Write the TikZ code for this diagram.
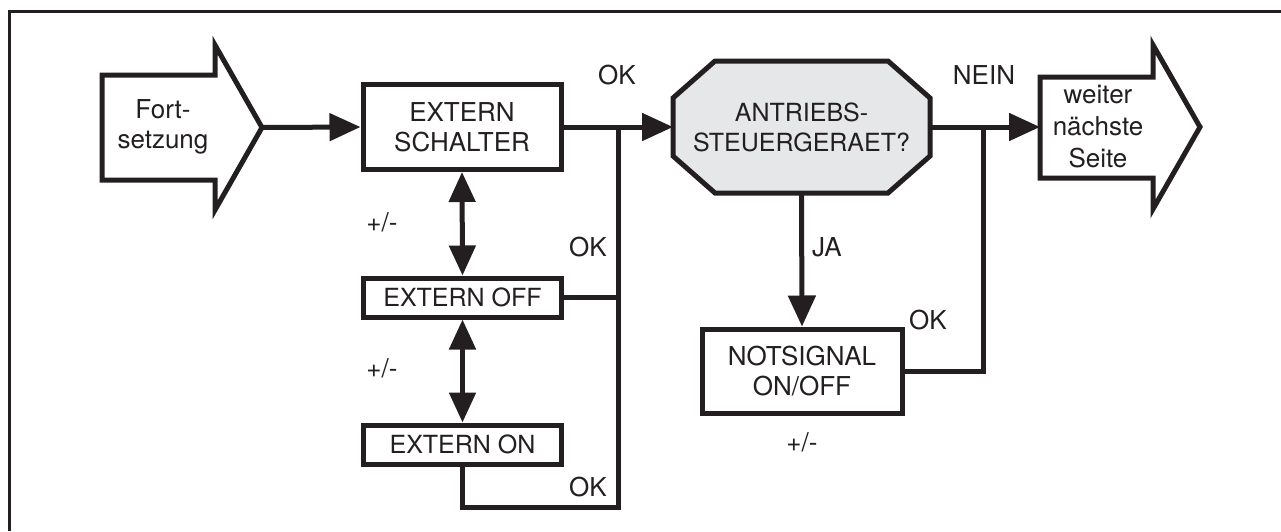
\documentclass[tikz,border=0pt]{standalone}
\usepackage{fontspec}
\setmainfont{TeX Gyre Heros}
\usetikzlibrary{arrows.meta}
\definecolor{ink}{HTML}{231F20}
\definecolor{octfill}{HTML}{E6E7E8}
\begin{document}
\begin{tikzpicture}[x=1pt,y=-1pt,
  every node/.style={font=\fontsize{26}{30}\selectfont, text=ink},
  box/.style={draw=ink, line width=5pt, fill=white, inner sep=0pt, minimum width=198pt, align=center},
  bigarrow/.style={draw=ink, line width=5pt, fill=white, line join=miter},
  wire/.style={draw=ink, line width=5pt},
  arr/.style={wire, -{Triangle[length=31pt,width=27pt]}},
  darr/.style={wire, {Triangle[length=30pt,width=26pt]}-{Triangle[length=30pt,width=26pt]}},
  lbl/.style={inner sep=0pt}]
\useasboundingbox (0,0) rectangle (1281,531);
% frame (top and left edges only)
\draw[ink, line width=3pt] (9,531) -- (9,11.5) -- (1281,11.5);

% Fortsetzung arrow
\draw[bigarrow] (102,75) -- (215,75) -- (215,45) -- (262,127.5) -- (215,210) -- (215,180) -- (102,180) -- cycle;
\node[lbl, align=center] (fort) at (163,127) {Fort-\\setzung};
\coordinate (forttip) at (262,127.5);

% weiter arrow
\draw[bigarrow] (1040,77) -- (1153,77) -- (1153,45) -- (1200,127) -- (1153,209) -- (1153,178) -- (1040,178) -- cycle;
\node[lbl, align=center, font=\fontsize{26}{32}\selectfont] (weiter) at (1098,127) {weiter\\nächste\\Seite};
\coordinate (weiterin) at (1040,127);

% octagon
\draw[draw=ink, line width=5pt, fill=octfill, line join=miter]
  (715,61) -- (888,61) -- (930,98) -- (930,156) -- (888,193) -- (715,193) -- (673,156) -- (673,98) -- cycle;
\node[inner sep=0pt, outer sep=0pt, minimum width=257pt, minimum height=132pt, align=center, font=\fontsize{25}{30}\selectfont] (oct) at (801.5,127) {ANTRIEBS-\\STEUERGERAET?};

% boxes
\node[box, minimum height=85pt] (sch) at (462,127) {EXTERN\\SCHALTER};
\node[box, minimum height=39pt, font=\fontsize{25}{30}\selectfont] (off) at (462.5,297.5) {EXTERN OFF};
\node[box, minimum height=39pt, font=\fontsize{25}{30}\selectfont] (on) at (462.5,444.5) {EXTERN ON};
\node[box, minimum width=200pt, minimum height=84pt] (not) at (802,371) {NOTSIGNAL\\ON/OFF};

% bus coordinates
\coordinate (bus) at (618,127);
\coordinate (busB) at (618,507);
\coordinate (bus2) at (983,127);

% connectors
\draw[arr] (forttip) -- (sch.west);
\draw[arr] (sch.east) -- (oct.west);
\draw[arr] (oct.east) -- (weiterin);
\draw[darr] (sch.south) -- (off.north);
\draw[darr] (off.south) -- (on.north);
\draw[wire] (off.east) -- (off.east -| bus);
\draw[wire, line join=miter] (on.south) |- (busB) -- (bus);
\draw[arr] (oct.south) -- (not.north);
\draw[wire, line join=miter] (not.east) -| (bus2);

% labels
\node[lbl] (ok1) at (617,75) {OK};
\node[lbl] (nein) at (984,75) {NEIN};
\node[lbl] (ok2) at (588,247) {OK};
\node[lbl] (ok3) at (588,487) {OK};
\node[lbl] (pm1) at (382,222) {+/-};
\node[lbl] (pm2) at (382,368) {+/-};
\node[lbl] (pm3) at (802,442) {+/-};
\node[lbl] (ja) at (827,247) {JA};
\node[lbl] (ok4) at (928,320) {OK};
\end{tikzpicture}
\end{document}
